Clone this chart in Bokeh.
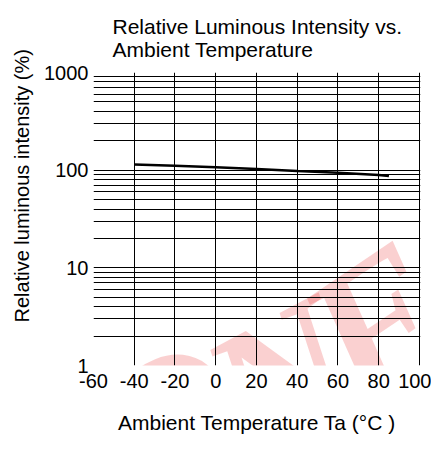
import math
from bokeh.plotting import figure
from bokeh.models import Range1d, FixedTicker, NumeralTickFormatter, Label, Title
from bokeh.embed import file_html
from bokeh.resources import INLINE

# ---- data ----
temps = [-40, -20, 0, 20, 40, 60, 80, 85]
rel_intensity = [114, 111, 107, 103, 98, 94, 89, 87]
x_ticks = [-60, -40, -20, 0, 20, 40, 60, 80, 100]
y_ticks = [1, 10, 100, 1000]
y_minor = [m * d for d in [1, 10, 100] for m in range(2, 10)]

FONT = "Liberation Sans"

p = figure(width=431, height=439, output_backend="svg", toolbar_location=None,
           x_axis_type="linear", y_axis_type="log",
           x_range=Range1d(-60, 100.5), y_range=Range1d(1, 1000),
           min_border_left=89, min_border_right=11, min_border_top=71, min_border_bottom=74)
p.outline_line_color = None
p.background_fill_color = None

# title (two lines)
p.title.text = "Relative Luminous Intensity vs.\nAmbient Temperature"
p.title.align = "left"
p.title.offset = 19
p.title.text_font = FONT
p.title.text_font_size = "21px"
p.title.text_font_style = "normal"
p.title.text_color = "black"
p.title.text_line_height = 1.0
p.title.standoff = 24

# faint watermark (behind the grid; only the part inside the plot area shows)
wm = [("O", 172, 428, 22), ("N", 285, 388, 28), ("F", 380, 332, 34)]
for ch, px, py, ang in wm:
    p.add_layout(Label(x=px - 97, y=373 - py, x_units="screen", y_units="screen", text=ch,
                       angle=math.radians(ang), text_font="Liberation Serif", text_font_style="bold italic",
                       text_font_size="190px", text_color="#e82828", text_alpha=0.22,
                       text_align="center", text_baseline="middle", level="image"))

p.line(temps, rel_intensity, line_color="black", line_width=2.5)

# axes
p.xaxis.ticker = FixedTicker(ticks=x_ticks)
p.xaxis.major_label_overrides = {t: str(t) for t in x_ticks}
p.yaxis.ticker = FixedTicker(ticks=y_ticks, minor_ticks=y_minor)
p.yaxis.formatter = NumeralTickFormatter(format="0")
for ax in (p.xaxis[0], p.yaxis[0]):
    ax.axis_line_color = None
    ax.major_tick_line_color = None
    ax.minor_tick_line_color = None
    ax.major_tick_out = 0
    ax.minor_tick_out = 0
    ax.major_label_text_font = FONT
    ax.major_label_text_font_size = "20px"
    ax.major_label_text_color = "black"
p.xaxis.major_label_standoff = 8
p.yaxis.major_label_standoff = 5

p.xaxis.axis_label = "Ambient Temperature Ta (°C )"
p.xaxis.axis_label_text_font = FONT
p.xaxis.axis_label_text_font_size = "21px"
p.xaxis.axis_label_text_font_style = "normal"
p.xaxis.axis_label_text_color = "black"
p.xaxis.axis_label_standoff = 20

ylab = Title(text="Relative luminous intensity  (%)", align="left", offset=43, standoff=17,
             text_font=FONT, text_font_size="20px", text_font_style="normal", text_color="black")
p.add_layout(ylab, "left")

# grid
p.xgrid.ticker = FixedTicker(ticks=x_ticks[1:])
p.xgrid.grid_line_color = "black"
p.xgrid.grid_line_width = 1
p.ygrid.ticker = FixedTicker(ticks=y_ticks, minor_ticks=y_minor)
p.ygrid.grid_line_color = "black"
p.ygrid.minor_grid_line_color = "black"
p.ygrid.grid_line_width = 1

open("out.html", "w").write(file_html(p, INLINE))
